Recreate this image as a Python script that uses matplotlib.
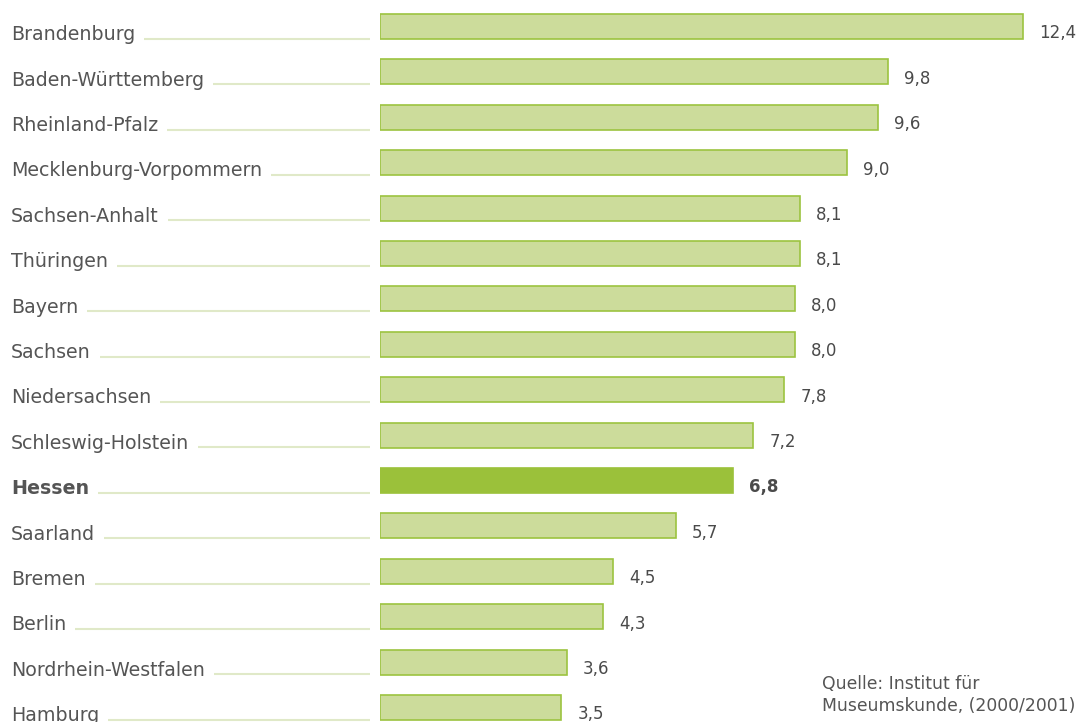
import matplotlib
matplotlib.use('Agg')
import matplotlib.pyplot as plt
import matplotlib.transforms as mtransforms

laender = ['Brandenburg', 'Baden-Württemberg', 'Rheinland-Pfalz',
           'Mecklenburg-Vorpommern', 'Sachsen-Anhalt', 'Thüringen', 'Bayern',
           'Sachsen', 'Niedersachsen', 'Schleswig-Holstein', 'Hessen',
           'Saarland', 'Bremen', 'Berlin', 'Nordrhein-Westfalen', 'Hamburg']
werte = [12.4, 9.8, 9.6, 9.0, 8.1, 8.1, 8.0, 8.0, 7.8, 7.2, 6.8, 5.7,
         4.5, 4.3, 3.6, 3.5]
highlight = 'Hessen'
quelle = 'Quelle: Institut für\nMuseumskunde, (2000/2001)'

W, H = 1081, 722
bar_left_px = 380
px_per_unit = 51.85
row_px = 45.4
first_row_px = 26.5

color_fill = '#ccdc9b'
color_edge = '#9cc340'
color_hl = '#9bc13a'
color_leader = '#e0e9c8'
color_text = '#555555'
color_val = '#4a4a4a'

plt.rcParams['font.family'] = ['DejaVu Sans']

fig = plt.figure(figsize=(W / 100, H / 100), dpi=100)
ax = fig.add_axes([bar_left_px / W, 0, 1 - bar_left_px / W, 1])
ax.set_xlim(0, (W - bar_left_px) / px_per_unit)
ax.set_ylim((H - first_row_px) / row_px, -first_row_px / row_px)
ax.axis('off')

ypos = list(range(len(laender)))
for y, name, v in zip(ypos, laender, werte):
    if name == highlight:
        ax.barh(y, v, height=0.55, color=color_hl, edgecolor=color_hl,
                linewidth=1.2)
    else:
        ax.barh(y, v, height=0.55, color=color_fill, edgecolor=color_edge,
                linewidth=1.2)
    lbl = ('%.1f' % v).replace('.', ',')
    ax.text(v + 16 / px_per_unit, y + 0.15, lbl, ha='left', va='center',
            fontsize=12, color=color_val,
            fontweight='bold' if name == highlight else 'normal')

# Land names on the left with leader lines to the bars
trans = mtransforms.blended_transform_factory(fig.transFigure, ax.transData)
fig.canvas.draw()
renderer = fig.canvas.get_renderer()
for y, name in zip(ypos, laender):
    t = fig.text(11 / W, 0, name, ha='left', va='baseline', fontsize=13.7,
                 color=color_text, transform=trans,
                 fontweight='bold' if name == highlight else 'normal')
    t.set_y(y + 0.3)
    bb = t.get_window_extent(renderer)
    x0 = (bb.x1 + 9) / W
    ax.plot([x0, 370 / W], [y + 0.27, y + 0.27], transform=trans,
            color=color_leader, linewidth=1.5, clip_on=False,
            solid_capstyle='butt')

fig.text(822 / W, 1 - 711 / H, quelle, ha='left', va='baseline',
         fontsize=12.4, color=color_text, linespacing=1.3)

fig.savefig('out.png', dpi=100)
